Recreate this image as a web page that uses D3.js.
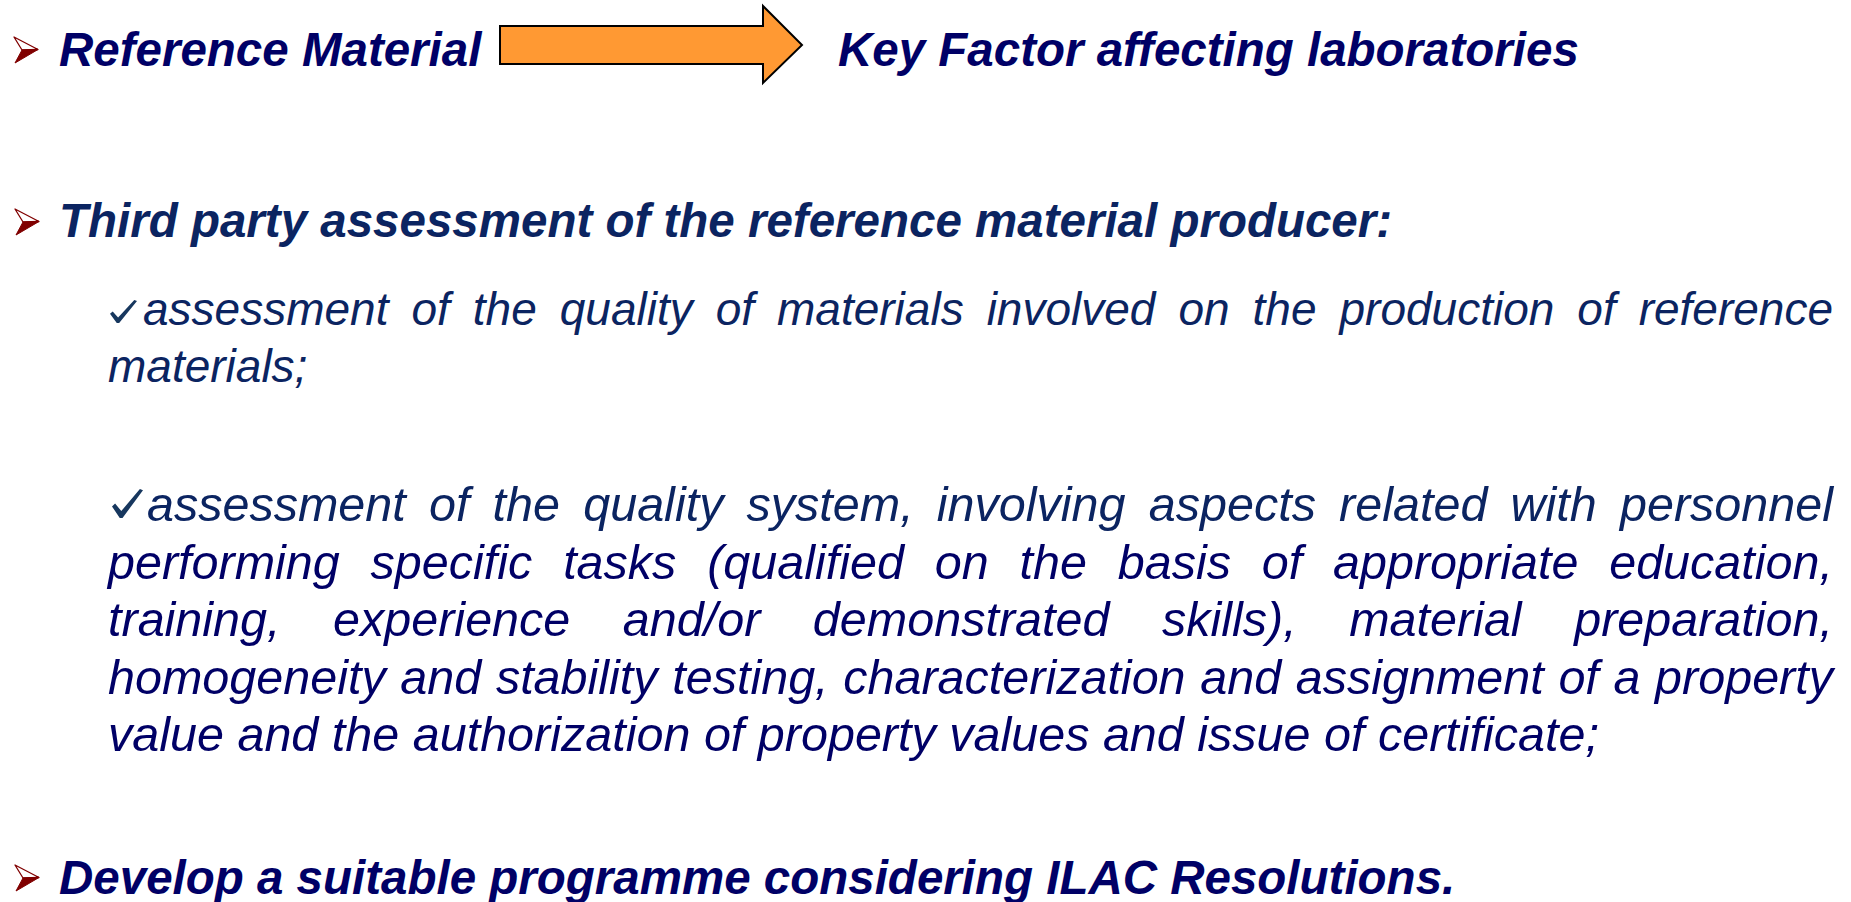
<!DOCTYPE html>
<html>
<head>
  <meta charset="UTF-8">
  <title>Reference Material slide</title>
  <style>
    body { margin: 0; background: #fff; overflow: hidden; }
    svg { display: block; }
    text { font-family: "Liberation Sans", Arial, sans-serif; font-style: italic; }
  </style>
</head>
<body>
<svg id="slide"></svg>
<script src="https://d3js.org/d3.v7.min.js"></script>
<script>

// slide texts
var headLeft = "Reference Material"
var headRight = "Key Factor affecting laboratories"
var heading2 = "Third party assessment of the reference material producer:"
var heading3 = "Develop a suitable programme considering ILAC Resolutions."
var check1Lines = [
  "assessment of the quality of materials involved on the production of reference",
  "materials;"
]
var check2Lines = [
  "assessment of the quality system, involving aspects related with personnel",
  "performing specific tasks (qualified on the basis of appropriate education,",
  "training, experience and/or demonstrated skills), material preparation,",
  "homogeneity and stability testing, characterization and assignment of a property",
  "value and the authorization of property values and issue of certificate;"
]

let width = 1851, height = 902;
let svg = d3.select("#slide").attr("width", width).attr("height", height)

var navy = "#000066", blue = "#0b2461", red = "#800000", checkCol = "#17375e"
var rightEdge = 1833

// bullet arrowhead (3d look)
function bullet(x, cy) {
    let g = svg.append("g").attr("transform", "translate(" + x + "," + (cy - 13) + ")")
    g.append("path").attr("d", "M0,0 L24,12.5 L8,13 Z")
        .attr("fill", "#fff").attr("stroke", red).attr("stroke-width", 1.3).attr("stroke-linejoin", "round")
    g.append("path").attr("d", "M8,13 L24,12.5 L1,26 Z")
        .attr("fill", red).attr("stroke", red).attr("stroke-width", 1)
}

// check mark
function check(x, y, w, h) {
    let pts = [[0, 0.6], [0.1, 0.5], [0.3, 0.76], [0.9, 0], [1, 0.04], [0.34, 1], [0.25, 1]]
    svg.append("path")
        .attr("d", "M" + pts.map(p => (x + p[0] * w) + "," + (y + p[1] * h)).join("L") + "Z")
        .attr("fill", checkCol)
}

// justified line: words spread between x0 and the right edge
function line(str, x0, y, size, color, justify, bold) {
    let t = svg.append("text").attr("y", y)
        .attr("font-size", size)
        .attr("font-weight", bold ? "bold" : "normal")
        .attr("fill", color)
    if (!justify) {
        t.attr("x", x0).text(str)
        return
    }
    let words = str.split(" ")
    let spans = words.map(w => t.append("tspan").text(w))
    let widths = spans.map(s => s.node().getComputedTextLength())
    let gap = (rightEdge - x0 - d3.sum(widths)) / (words.length - 1)
    let cx = x0
    spans.forEach((s, i) => {
        s.attr("x", cx)
        cx += widths[i] + gap
    })
}

// heading 1 with orange arrow
bullet(14, 50)
line(headLeft, 59, 66, 47.5, navy, false, true)
svg.append("path")
    .attr("d", "M500,26 L763,26 L763,6 L802,45 L763,83 L763,64 L500,64 Z")
    .attr("fill", "#ff9933").attr("stroke", "#000").attr("stroke-width", 2)
line(headRight, 838, 66, 47.5, navy, false, true)

// heading 2
bullet(15, 222)
line(heading2, 59, 237, 47.5, blue, false, true)

// first check paragraph
check(110, 300, 27, 23)
check1Lines.forEach((s, i) => {
    let last = i == check1Lines.length - 1
    line(s, i == 0 ? 143 : 108, 325 + i * 57, 46, blue, !last, false)
})

// second check paragraph
check(112, 489, 31, 29)
check2Lines.forEach((s, i) => {
    let last = i == check2Lines.length - 1
    line(s, i == 0 ? 147 : 108, 521 + i * 57.5, 48.5, i == 0 ? blue : navy, !last, false)
})

// heading 3
bullet(15, 878)
line(heading3, 59, 894, 47.5, navy, false, true)

</script>
</body>
</html>
